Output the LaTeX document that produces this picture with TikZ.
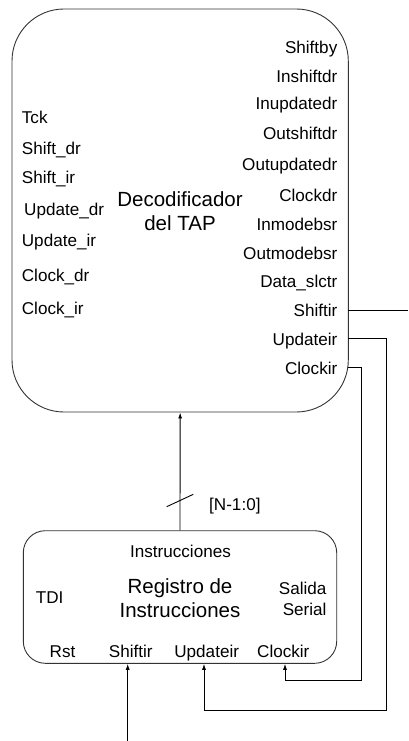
\documentclass[tikz,border=0pt]{standalone}
\usepackage{fontspec}
\setmainfont{Liberation Sans}
\usetikzlibrary{arrows.meta}
\begin{document}
\begin{tikzpicture}[x=1pt,y=-1pt,
  box/.style={draw=black!80,line width=0.9pt},
  wire/.style={draw=black,line width=0.9pt},
  arr/.style={wire,-{Latex[length=6pt,width=4pt]}},
  lbl/.style={inner sep=0pt,font=\fontsize{17.1}{20}\selectfont},
  ttl/.style={inner sep=0pt,font=\fontsize{20.5}{24}\selectfont}]
\useasboundingbox (0,0) rectangle (408,741);
% main boxes
\node[box,rounded corners=52pt,minimum width=336.3pt,minimum height=403pt] (dec) at (180.15,210.5) {};
\node[box,rounded corners=22pt,minimum width=313.4pt,minimum height=132.6pt] (reg) at (180,597) {};
% decoder titles
\node[ttl,anchor=base] (dt1) at (180,206.7) {Decodificador};
\node[ttl,anchor=base] (dt2) at (180,230) {del TAP};
% right labels
\node[lbl,anchor=base east] (r1) at (337.5,53.3) {Shiftby};
\node[lbl,anchor=base east] (r2) at (337.5,82.7) {Inshiftdr};
\node[lbl,anchor=base east] (r3) at (337.5,110) {Inupdatedr};
\node[lbl,anchor=base east] (r4) at (337.5,139.3) {Outshiftdr};
\node[lbl,anchor=base east] (r5) at (337.5,170) {Outupdatedr};
\node[lbl,anchor=base east] (r6) at (337.5,201.7) {Clockdr};
\node[lbl,anchor=base east] (r7) at (337.5,230.7) {Inmodebsr};
\node[lbl,anchor=base east] (r8) at (337.5,259) {Outmodebsr};
\node[lbl,anchor=base east] (r9) at (337.5,287.3) {Data\_slctr};
\node[lbl,anchor=base east] (r10) at (337.5,316.7) {Shiftir};
\node[lbl,anchor=base east] (r11) at (337.5,345) {Updateir};
\node[lbl,anchor=base east] (r12) at (337.5,374) {Clockir};
% left labels
\node[lbl,anchor=base west] (l1) at (21.7,123.3) {Tck};
\node[lbl,anchor=base west] (l2) at (21.7,154) {Shift\_dr};
\node[lbl,anchor=base west] (l3) at (21.7,183.3) {Shift\_ir};
\node[lbl,anchor=base west] (l4) at (24,215) {Update\_dr};
\node[lbl,anchor=base west] (l5) at (21.7,246.7) {Update\_ir};
\node[lbl,anchor=base west] (l6) at (21.7,281.7) {Clock\_dr};
\node[lbl,anchor=base west] (l7) at (21.7,314) {Clock\_ir};
% register texts
\node[lbl,anchor=base] (ri) at (180.5,557) {Instrucciones};
\node[ttl,anchor=base] (rt1) at (180,593) {Registro de};
\node[ttl,anchor=base] (rt2) at (180,617.5) {Instrucciones};
\node[lbl,anchor=base west] (tdi) at (35.7,603.5) {TDI};
\node[lbl,anchor=base east] (sal) at (326.7,594) {Salida};
\node[lbl,anchor=base east] (ser) at (326.7,615) {Serial};
\node[lbl,anchor=base] (rst) at (62.5,657) {Rst};
\node[lbl,anchor=base] (rsh) at (130.8,657) {Shiftir};
\node[lbl,anchor=base] (rup) at (206.7,657) {Updateir};
\node[lbl,anchor=base] (rck) at (283.3,657) {Clockir};
% bus arrow with slash
\draw[arr] (reg.north) -- (dec.south);
\coordinate (sl) at (180,500.5);
\draw[wire] ([shift={(-13.3,6.2)}]sl) -- ([shift={(13.3,-6.2)}]sl);
\node[lbl,anchor=base west] (bus) at (209,510) {[N-1:0]};
% Shiftir out
\coordinate (sA) at (348.3,310.7);
\coordinate (sEnd) at (408,310.7);
\draw[wire] (sA) -- (sEnd);
% Updateir loop
\coordinate (uA) at (348.3,338.7);
\coordinate (uB) at (386.7,338.7);
\coordinate (uC) at (386.7,710.7);
\coordinate (uD) at (204,710.7);
\draw[arr] (uA) -- (uB) -- (uC) -- (uD) -- (uD |- reg.south);
% Clockir loop
\coordinate (cA) at (348.3,367.3);
\coordinate (cB) at (361,367.3);
\coordinate (cC) at (361,680);
\coordinate (cD) at (285,680);
\draw[arr] (cA) -- (cB) -- (cC) -- (cD) -- (cD |- reg.south);
% Shiftir input
\coordinate (inS) at (127.7,741);
\draw[arr] (inS) -- (inS |- reg.south);
\end{tikzpicture}
\end{document}
